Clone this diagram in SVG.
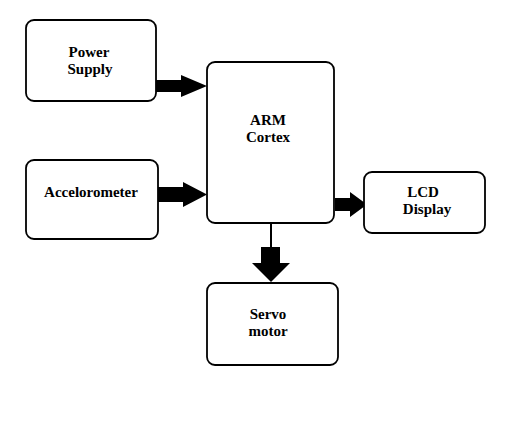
<svg xmlns="http://www.w3.org/2000/svg" width="524" height="429" viewBox="0 0 524 429">
<style>
.box{fill:#fff;stroke:#000;stroke-width:1.8}
.t{font-family:"Liberation Serif","Times New Roman",serif;font-weight:bold;font-size:15px;fill:#000;text-anchor:middle}
.arr{fill:#000}
</style>
<rect width="524" height="429" fill="#fff"/>
<g id="connectors">
<polygon class="arr" points="156,80 181,80 181,75 207,86 181,97 181,92 156,92"/>
<polygon class="arr" points="158,187 183,187 183,182 207,194.5 183,207 183,202 158,202"/>
<polygon class="arr" points="335,198 350,198 350,192 367,204.5 350,217 350,211 335,211"/>
<line x1="271" y1="223" x2="271" y2="248" stroke="#000" stroke-width="2"/>
<polygon class="arr" points="261,247 280,247 280,263 290,263 271,282 252,263 261,263"/>
</g>
<g id="power-supply">
<rect class="box" x="26" y="20" width="130" height="81" rx="8"/>
<text class="t" x="89" y="57">Power</text>
<text class="t" x="90" y="74">Supply</text>
</g>
<g id="accelerometer">
<rect class="box" x="26" y="160" width="132" height="79" rx="8"/>
<text class="t" x="91" y="197">Accelorometer</text>
</g>
<g id="arm-cortex">
<rect class="box" x="207" y="62" width="127" height="161" rx="8"/>
<text class="t" x="268" y="125">ARM</text>
<text class="t" x="268" y="142">Cortex</text>
</g>
<g id="lcd-display">
<rect class="box" x="364" y="172" width="121" height="61" rx="8"/>
<text class="t" x="423" y="197">LCD</text>
<text class="t" x="427" y="214">Display</text>
</g>
<g id="servo-motor">
<rect class="box" x="207" y="283" width="131" height="82" rx="8"/>
<text class="t" x="268" y="319">Servo</text>
<text class="t" x="268" y="336">motor</text>
</g>
</svg>
